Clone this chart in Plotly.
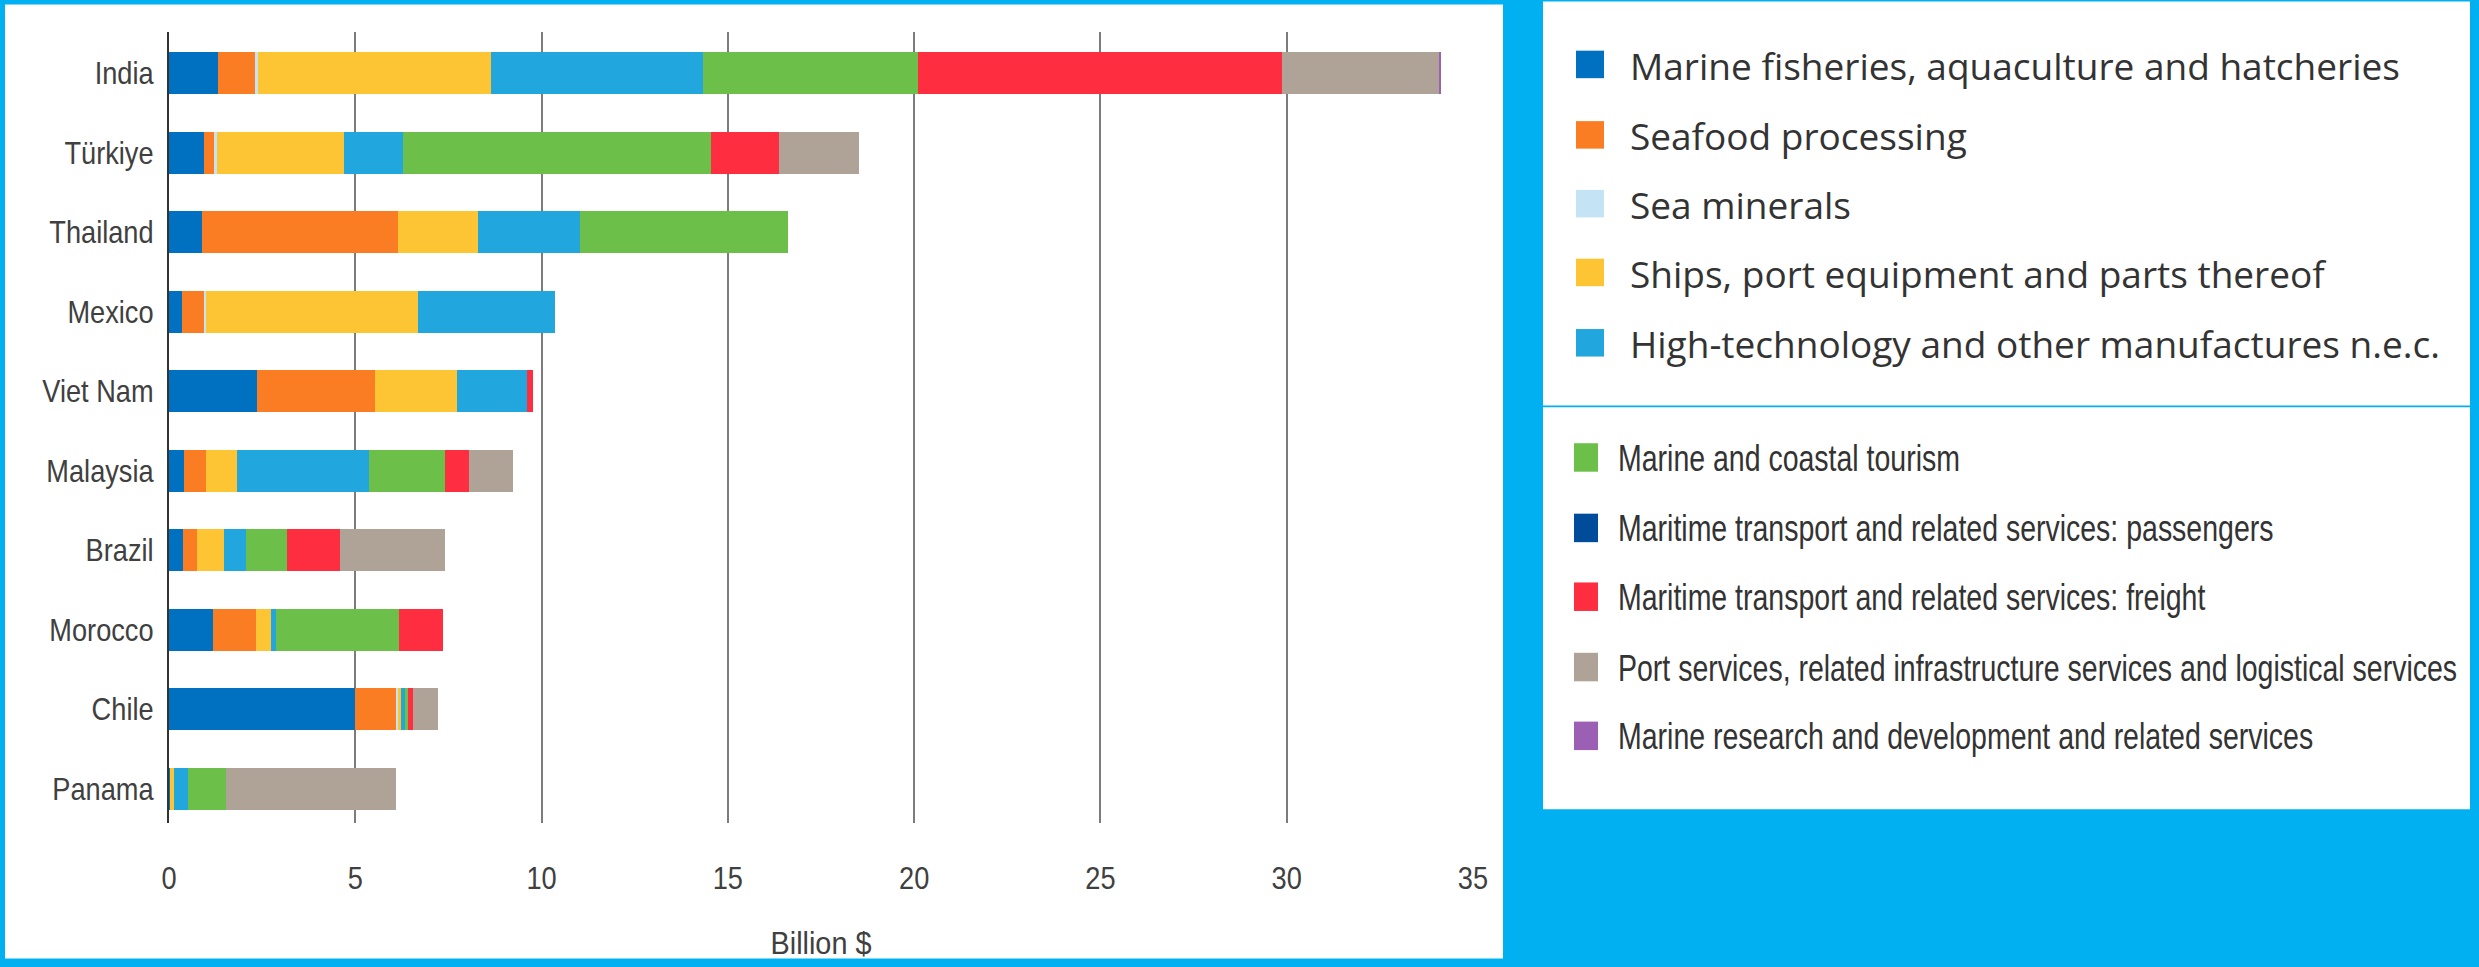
import json
import plotly.graph_objects as go

# Countries, top to bottom
countries = ["India", "Türkiye", "Thailand", "Mexico", "Viet Nam",
             "Malaysia", "Brazil", "Morocco", "Chile", "Panama"]

# Export values by sector, billion US$ (same country order)
fisheries   = [1.32, 0.95, 0.89, 0.36, 2.37, 0.40, 0.38, 1.18, 5.00, 0.04]
seafood     = [0.98, 0.26, 5.25, 0.59, 3.15, 0.60, 0.37, 1.15, 1.08, 0.00]
minerals    = [0.08, 0.08, 0.00, 0.05, 0.00, 0.00, 0.00, 0.00, 0.07, 0.00]
ships       = [6.26, 3.42, 2.16, 5.69, 2.22, 0.82, 0.72, 0.42, 0.09, 0.10]
hightech    = [5.69, 1.56, 2.74, 3.67, 1.88, 3.56, 0.60, 0.11, 0.12, 0.37]
tourism     = [5.78, 8.29, 5.57, 0.00, 0.00, 2.03, 1.09, 3.32, 0.05, 1.01]
passengers  = [0.00, 0.00, 0.00, 0.00, 0.00, 0.00, 0.00, 0.00, 0.00, 0.00]
freight     = [9.76, 1.81, 0.00, 0.00, 0.16, 0.63, 1.42, 1.18, 0.14, 0.00]
port        = [4.23, 2.15, 0.00, 0.00, 0.00, 1.18, 2.82, 0.00, 0.66, 4.56]
research    = [0.05, 0.00, 0.00, 0.00, 0.00, 0.00, 0.00, 0.00, 0.00, 0.00]

sector_names = [
    "Marine fisheries, aquaculture and hatcheries",
    "Seafood processing",
    "Sea minerals",
    "Ships, port equipment and parts thereof",
    "High-technology and other manufactures n.e.c.",
    "Marine and coastal tourism",
    "Maritime transport and related services: passengers",
    "Maritime transport and related services: freight",
    "Port services, related infrastructure services and logistical services",
    "Marine research and development and related services",
]
sector_values = [fisheries, seafood, minerals, ships, hightech,
                 tourism, passengers, freight, port, research]
sector_colors = ["#0070C0", "#FA7D24", "#C4E4F6", "#FDC433", "#21A6DD",
                 "#6CC04A", "#004C9A", "#FF2D40", "#AFA398", "#9B5FB4"]

x_ticks = [0, 5, 10, 15, 20, 25, 30, 35]

W, H = 2479, 967
L, R, T, B = 169, 1006, 32, 130
PW, PH = W - L - R, H - T - B


def px(x):
    return (x - L) / PW


def py(y):
    return (H - B - y) / PH


BLUE = "#00B0F0"
SANS = "Liberation Sans, Arial, sans-serif"
TEXT = "#404040"

fig = go.Figure()
for name, vals, col in zip(sector_names, sector_values, sector_colors):
    fig.add_trace(go.Bar(
        y=countries, x=vals, name=name, orientation="h",
        marker=dict(color=col, line=dict(width=0)),
        showlegend=False,
    ))

shapes = [
    # white panel behind the chart
    dict(type="rect", xref="paper", yref="paper", layer="below",
         x0=px(5), x1=px(1503), y0=py(4), y1=py(975),
         fillcolor="white", line=dict(width=0)),
    # two legend boxes
    dict(type="rect", xref="paper", yref="paper", layer="below",
         x0=px(1543), x1=px(2470), y0=py(1), y1=py(412),
         fillcolor="white", line=dict(width=0)),
    dict(type="rect", xref="paper", yref="paper", layer="below",
         x0=px(1543), x1=px(2470), y0=py(414), y1=py(823),
         fillcolor="white", line=dict(width=0)),
]
annotations = []

# legend entries: first five in the upper box, the rest in the lower box
upper_y = [65, 136.7, 206.7, 276.7, 348.3]
lower_y = [465, 536.7, 606.7, 678.3, 748.3]
for i, (name, col) in enumerate(zip(sector_names, sector_colors)):
    if i < 5:
        cy = upper_y[i]
        x0, x1, hh = 1576, 1604, 14
        tx, fam, fs = 1628, "Open Sans, Roboto, sans-serif", 37
    else:
        cy = lower_y[i - 5]
        x0, x1, hh = 1574, 1598, 14.5
        tx, fam, fs = 1616, SANS, 37
    shapes.append(dict(type="rect", xref="paper", yref="paper",
                       x0=px(x0), x1=px(x1), y0=py(cy - hh), y1=py(cy + hh),
                       fillcolor=col, line=dict(width=0)))
    annotations.append(dict(xref="paper", yref="paper", x=px(tx), y=py(cy + 1),
                            xanchor="left", yanchor="middle", align="left",
                            showarrow=False, text=name,
                            font=dict(family=fam, size=fs, color="#333333")))

fig.update_layout(
    width=W, height=H,
    margin=dict(l=L, r=R, t=T, b=B, pad=0),
    paper_bgcolor=BLUE,
    plot_bgcolor="rgba(0,0,0,0)",
    barmode="stack",
    bargap=0.47,
    shapes=shapes,
    annotations=annotations,
    font=dict(family=SANS, color=TEXT),
    xaxis=dict(
        range=[0, 35], tickvals=x_ticks, ticktext=[str(v) for v in x_ticks],
        showgrid=True, gridcolor="#7C7C7C", gridwidth=2,
        zeroline=False, showline=False,
        ticks="outside", ticklen=27, tickcolor="rgba(0,0,0,0)",
        tickfont=dict(family=SANS, size=32, color=TEXT),
        title=dict(text="Billion $", font=dict(family=SANS, size=32, color=TEXT),
                   standoff=36),
        fixedrange=True,
    ),
    yaxis=dict(
        type="category", categoryorder="array", categoryarray=countries,
        range=[9.433, -0.519],
        showgrid=False, zeroline=False,
        showline=True, linecolor="#333333", linewidth=2,
        ticks="outside", ticklen=7, tickcolor="rgba(0,0,0,0)",
        tickfont=dict(family=SANS, size=32, color=TEXT),
        fixedrange=True,
    ),
)

# Narrow lettering: axis labels and the lower legend box use a condensed
# setting of the sans face (each label compressed horizontally about its anchor).
narrow_rules = [
    [".ytick text", 0.85],
    [".xtick text", 0.85],
    [".g-xtitle text", 0.9],
] + [['.annotation[data-index="%d"] text' % i, 0.77] for i in range(5, 10)]

condense_js = """
var gd = document.getElementById('{plot_id}');
var rules = %s;
function condense() {
  rules.forEach(function (r) {
    gd.querySelectorAll(r[0]).forEach(function (t) {
      if (t.getAttribute('data-narrow')) return;
      var b = t.getBBox();
      if (!b.width) return;
      var anchor = window.getComputedStyle(t).textAnchor ||
                   t.getAttribute('text-anchor') || 'start';
      var ax = anchor === 'end' ? b.x + b.width :
               (anchor === 'middle' ? b.x + b.width / 2 : b.x);
      var tr = t.getAttribute('transform') || '';
      t.setAttribute('transform', tr + ' translate(' + ax + ',0) scale(' + r[1] +
                     ',1) translate(' + (-ax) + ',0)');
      t.setAttribute('data-narrow', '1');
    });
  });
}
condense();
gd.on('plotly_afterplot', condense);
""" % json.dumps(narrow_rules)

fig.write_html("out.html", post_script=condense_js)
